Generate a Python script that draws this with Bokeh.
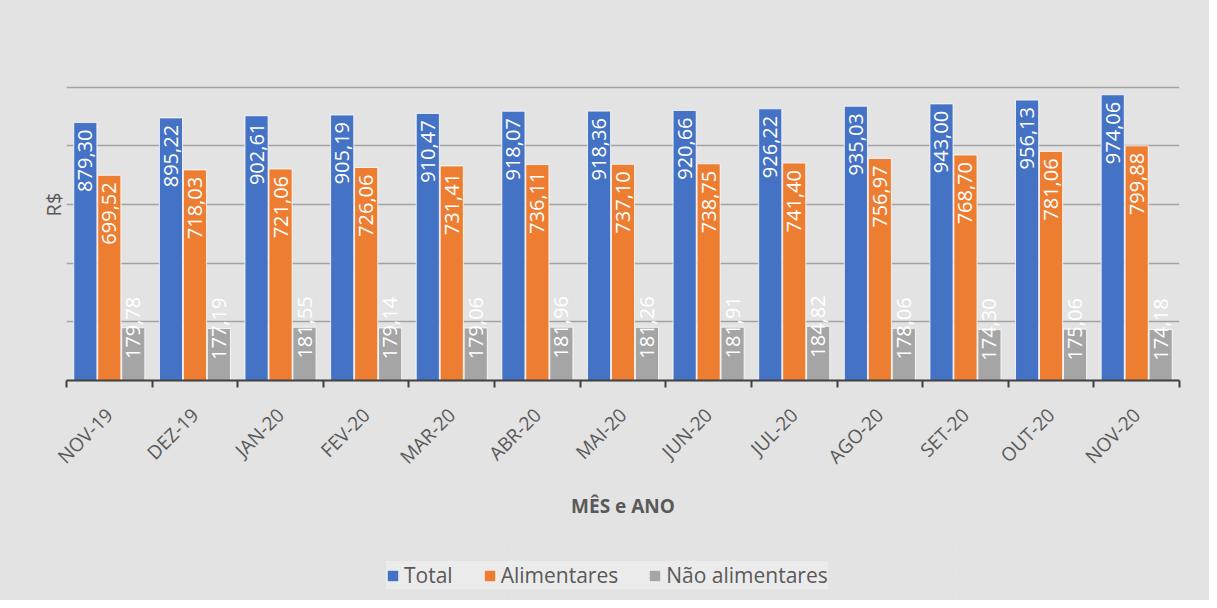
from math import pi
import numpy as np
from bokeh.plotting import figure
from bokeh.layouts import column
from bokeh.models import ColumnDataSource, FixedTicker, Range1d, Grid, Title, Legend, LegendItem
from bokeh.core.properties import value
from bokeh.embed import file_html
from bokeh.resources import INLINE

# ---- data ----
months = ["NOV-19", "DEZ-19", "JAN-20", "FEV-20", "MAR-20", "ABR-20", "MAI-20",
          "JUN-20", "JUL-20", "AGO-20", "SET-20", "OUT-20", "NOV-20"]
total = [879.30, 895.22, 902.61, 905.19, 910.47, 918.07, 918.36,
         920.66, 926.22, 935.03, 943.00, 956.13, 974.06]
alimentares = [699.52, 718.03, 721.06, 726.06, 731.41, 736.11, 737.10,
               738.75, 741.40, 756.97, 768.70, 781.06, 799.88]
nao_alimentares = [179.78, 177.19, 181.55, 179.14, 179.06, 181.96, 181.26,
                   181.91, 184.82, 178.06, 174.30, 175.06, 174.18]
series_names = ["Total", "Alimentares", "Não alimentares"]
y_ticks = [0, 200, 400, 600, 800, 1000, 1200]

# ---- style ----
FONT = "Open Sans"
TXT = "#595959"
BG = "#e3e3e3"
colors = ["#4472C4", "#ED7D31", "#A5A5A5"]
offsets = [-0.28, 0.0, 0.28]
label_offsets = [7, 7, -31]

n = len(months)
p = figure(width=1209, height=540, output_backend="svg", toolbar_location=None,
           x_range=Range1d(0, n), y_range=Range1d(0, y_ticks[-1]),
           y_axis_location=None,
           min_border_left=66, min_border_right=30, min_border_top=28,
           min_border_bottom=160)
p.background_fill_alpha = 0
p.border_fill_color = BG
p.outline_line_color = None

for vals, name, col, off, loff in zip([total, alimentares, nao_alimentares],
                                      series_names, colors, offsets, label_offsets):
    src = ColumnDataSource(dict(
        x=np.arange(n) + 0.5 + off,
        top=vals,
        label=[f"{v:.2f}".replace(".", ",") for v in vals],
    ))
    p.vbar(x="x", top="top", width=0.27, source=src, fill_color=col,
           line_color="white", line_alpha=0.8, line_width=1)
    p.text(x="x", y="top", text="label", source=src, angle=pi / 2,
           text_align="right", text_baseline="middle", text_color="white",
           text_font=value(FONT), text_font_size="20px", y_offset=loff)

# x axis
xa = p.xaxis[0]
xa.ticker = FixedTicker(ticks=[i + 0.5 for i in range(n)],
                        minor_ticks=list(range(n + 1)))
xa.major_label_overrides = {i + 0.5: m for i, m in enumerate(months)}
xa.major_label_orientation = pi / 4
xa.major_label_text_font = FONT
xa.major_label_text_font_size = "19px"
xa.major_label_text_color = TXT
xa.major_label_standoff = 24
xa.major_tick_line_color = None
xa.minor_tick_line_color = "#404040"
xa.minor_tick_line_width = 2
xa.minor_tick_in = 0
xa.minor_tick_out = 7
xa.axis_line_color = "#404040"
xa.axis_line_width = 2
xa.axis_label = "MÊS e ANO"
xa.axis_label_text_font = FONT
xa.axis_label_text_font_style = "bold"
xa.axis_label_text_font_size = "19px"
xa.axis_label_text_color = TXT
xa.axis_label_standoff = 12
p.xgrid.visible = False

# horizontal gridlines (top one lighter, as in the reference)
p.add_layout(Grid(dimension=1, ticker=FixedTicker(ticks=y_ticks[:-1]),
                  grid_line_color="#a3a3a3", grid_line_width=1.5), "center")
p.add_layout(Grid(dimension=1, ticker=FixedTicker(ticks=y_ticks[-1:]),
                  grid_line_color="#cfcfcf", grid_line_width=1.5), "center")

# y axis title
p.add_layout(Title(text="R$", align="center", text_font=FONT,
                   text_font_size="20px", text_font_style="normal",
                   text_color=TXT, standoff=0), "left")

# ---- legend strip (separate small figure below) ----
q = figure(width=1209, height=60, output_backend="svg", toolbar_location=None,
           x_range=Range1d(0, 1), y_range=Range1d(0, 1),
           x_axis_location=None, y_axis_location=None,
           min_border_left=0, min_border_right=0, min_border_top=0,
           min_border_bottom=0)
q.background_fill_alpha = 0
q.border_fill_color = BG
q.outline_line_color = None
items = []
for name, col in zip(series_names, colors):
    # zero-height off-screen placeholder, only used to draw the legend swatch
    r = q.vbar(x=[-5], top=[0], bottom=[0], width=0.1, fill_color=col,
               line_color=None)
    items.append(LegendItem(label=name, renderers=[r]))
lg = Legend(items=items, orientation="horizontal", location=(320, 11),
            label_text_font=FONT, label_text_font_size="21px",
            label_text_color=TXT, glyph_width=13, glyph_height=13,
            label_standoff=5, spacing=30, padding=12, margin=0,
            background_fill_color="#f0f0f0", background_fill_alpha=0.6,
            border_line_color=None)
q.add_layout(lg, "center")

layout = column(p, q, spacing=0, styles={"background-color": BG})
open("out.html", "w").write(file_html(layout, INLINE))
